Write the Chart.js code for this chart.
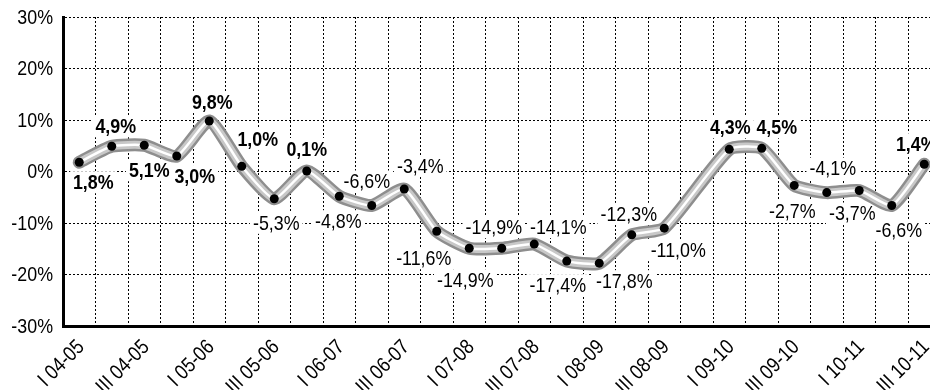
<!DOCTYPE html>
<html>
<head>
<meta charset="utf-8">
<script src="https://cdn.jsdelivr.net/npm/chart.js@4/dist/chart.umd.min.js"></script>
<style>
  html, body { margin: 0; padding: 0; background: #fff; overflow: hidden; }
  #wrap { width: 930px; height: 390px; overflow: hidden; }
  #box { width: 945px; height: 390px; }
</style>
</head>
<body>
<div id="wrap"><div id="box"><canvas id="chart"></canvas></div></div>
<script>
// quarters, I 04-05 .. III 10-11
const quarters = [
  'I 04-05', 'II 04-05', 'III 04-05', 'IV 04-05',
  'I 05-06', 'II 05-06', 'III 05-06', 'IV 05-06',
  'I 06-07', 'II 06-07', 'III 06-07', 'IV 06-07',
  'I 07-08', 'II 07-08', 'III 07-08', 'IV 07-08',
  'I 08-09', 'II 08-09', 'III 08-09', 'IV 08-09',
  'I 09-10', 'II 09-10', 'III 09-10', 'IV 09-10',
  'I 10-11', 'II 10-11', 'III 10-11'
];
// % change, no value printed for IV 08-09
const change = [
  1.8, 4.9, 5.1, 3.0, 9.8, 1.0, -5.3, 0.1, -4.8, -6.6, -3.4, -11.6, -14.9, -14.9,
  -14.1, -17.4, -17.8, -12.3, -11.0, null, 4.3, 4.5, -2.7, -4.1, -3.7, -6.6, 1.4
];
const yTicks = [-30, -20, -10, 0, 10, 20, 30];

// where each value label sits relative to its point (dx, dy)
const labelPos = [
  [14, 20], [4, -20], [5, 25], [18, 20], [3, -19], [16, -27], [2, 24], [0, -22],
  [-1, 25], [-5, -24], [16, -23], [-13, 27], [-4, 32], [-8, -21], [24, -17],
  [-9, 24], [25, 18], [-3, -21], [14, 22], null, [1, -22], [15, -21], [-2, 26],
  [6, -24], [-7, 23], [7, 25], [-8, -20]
];

// no narrow font installed, so text is squeezed by hand
const FONT = "'Liberation Sans', Arial, sans-serif";
const SQUEEZE = 0.85;

function fmt(v) {
  return v.toFixed(1).replace('.', ',') + '%';
}

function narrowText(ctx, t, x, y, rot) {
  ctx.save();
  ctx.translate(x, y);
  if (rot) ctx.rotate(rot);
  ctx.scale(SQUEEZE, 1);
  ctx.fillText(t, 0, 0);
  ctx.restore();
}

const valueLabels = {
  id: 'valueLabels',
  beforeDatasetsDraw(chart) {
    const ctx = chart.ctx;
    const meta = chart.getDatasetMeta(3);
    ctx.save();
    ctx.textAlign = 'center';
    ctx.textBaseline = 'middle';
    meta.data.forEach((pt, i) => {
      const v = change[i];
      if (v === null || !labelPos[i]) return;
      const x = pt.x + labelPos[i][0];
      const y = pt.y + labelPos[i][1];
      ctx.font = (v >= 0 ? 'bold ' : '') + '21px ' + FONT;
      const t = fmt(v);
      const w = ctx.measureText(t).width * SQUEEZE;
      ctx.fillStyle = '#fff';
      ctx.fillRect(x - w / 2 - 3, y - 11, w + 6, 22);
      ctx.fillStyle = '#000';
      narrowText(ctx, t, x, y + 1);
    });
    ctx.restore();
  },
  afterDraw(chart) {
    const ctx = chart.ctx;
    const xs = chart.scales.x, ys = chart.scales.y;
    const area = chart.chartArea;
    ctx.save();
    ctx.fillStyle = '#000';
    ctx.font = '21px ' + FONT;
    ctx.textAlign = 'right';
    ctx.textBaseline = 'middle';
    yTicks.forEach(v => {
      narrowText(ctx, v + '%', area.left - 10, ys.getPixelForValue(v) + 1);
    });
    quarters.forEach((q, i) => {
      if (i % 2) return;
      narrowText(ctx, q, xs.getPixelForValue(i) + 2, area.bottom + 18, -Math.PI / 4);
    });
    ctx.restore();
  }
};

const ctx = document.getElementById('chart').getContext('2d');
const myChart = new Chart(ctx, {
  type: 'line',
  data: {
    labels: quarters,
    datasets: [
      { data: change, borderColor: '#8e8e8e', borderWidth: 13, pointRadius: 0, order: 3 },
      { data: change, borderColor: '#c8c8c8', borderWidth: 8, pointRadius: 0, order: 2 },
      { data: change, borderColor: '#ffffff', borderWidth: 2.5, pointRadius: 0, order: 1 },
      { data: change, borderColor: 'rgba(0,0,0,0)', borderWidth: 0, pointRadius: 4.5,
        pointBackgroundColor: '#000', pointBorderWidth: 0, order: 0 }
    ]
  },
  options: {
    responsive: true,
    maintainAspectRatio: false,
    animation: false,
    spanGaps: true,
    elements: { line: { tension: 0.18, borderCapStyle: 'round', borderJoinStyle: 'round' } },
    layout: { padding: { top: 17, right: 4, left: 0, bottom: 0 } },
    plugins: { legend: { display: false }, tooltip: { enabled: false } },
    scales: {
      x: {
        offset: true,
        grid: { offset: true, color: '#000', lineWidth: 1, drawTicks: false },
        border: { color: '#000', width: 3, dash: [2, 2] },
        ticks: { display: false, autoSkip: false },
        afterFit: function (scale) { scale.height = 64; }
      },
      y: {
        min: -30, max: 30,
        afterBuildTicks: function (scale) { scale.ticks = yTicks.map(v => ({ value: v })); },
        grid: { color: '#000', lineWidth: 1, drawTicks: false },
        border: { color: '#000', width: 3, dash: [2, 2] },
        ticks: { display: false },
        afterFit: function (scale) { scale.width = 63; }
      }
    }
  },
  plugins: [valueLabels]
});
</script>
</body>
</html>
